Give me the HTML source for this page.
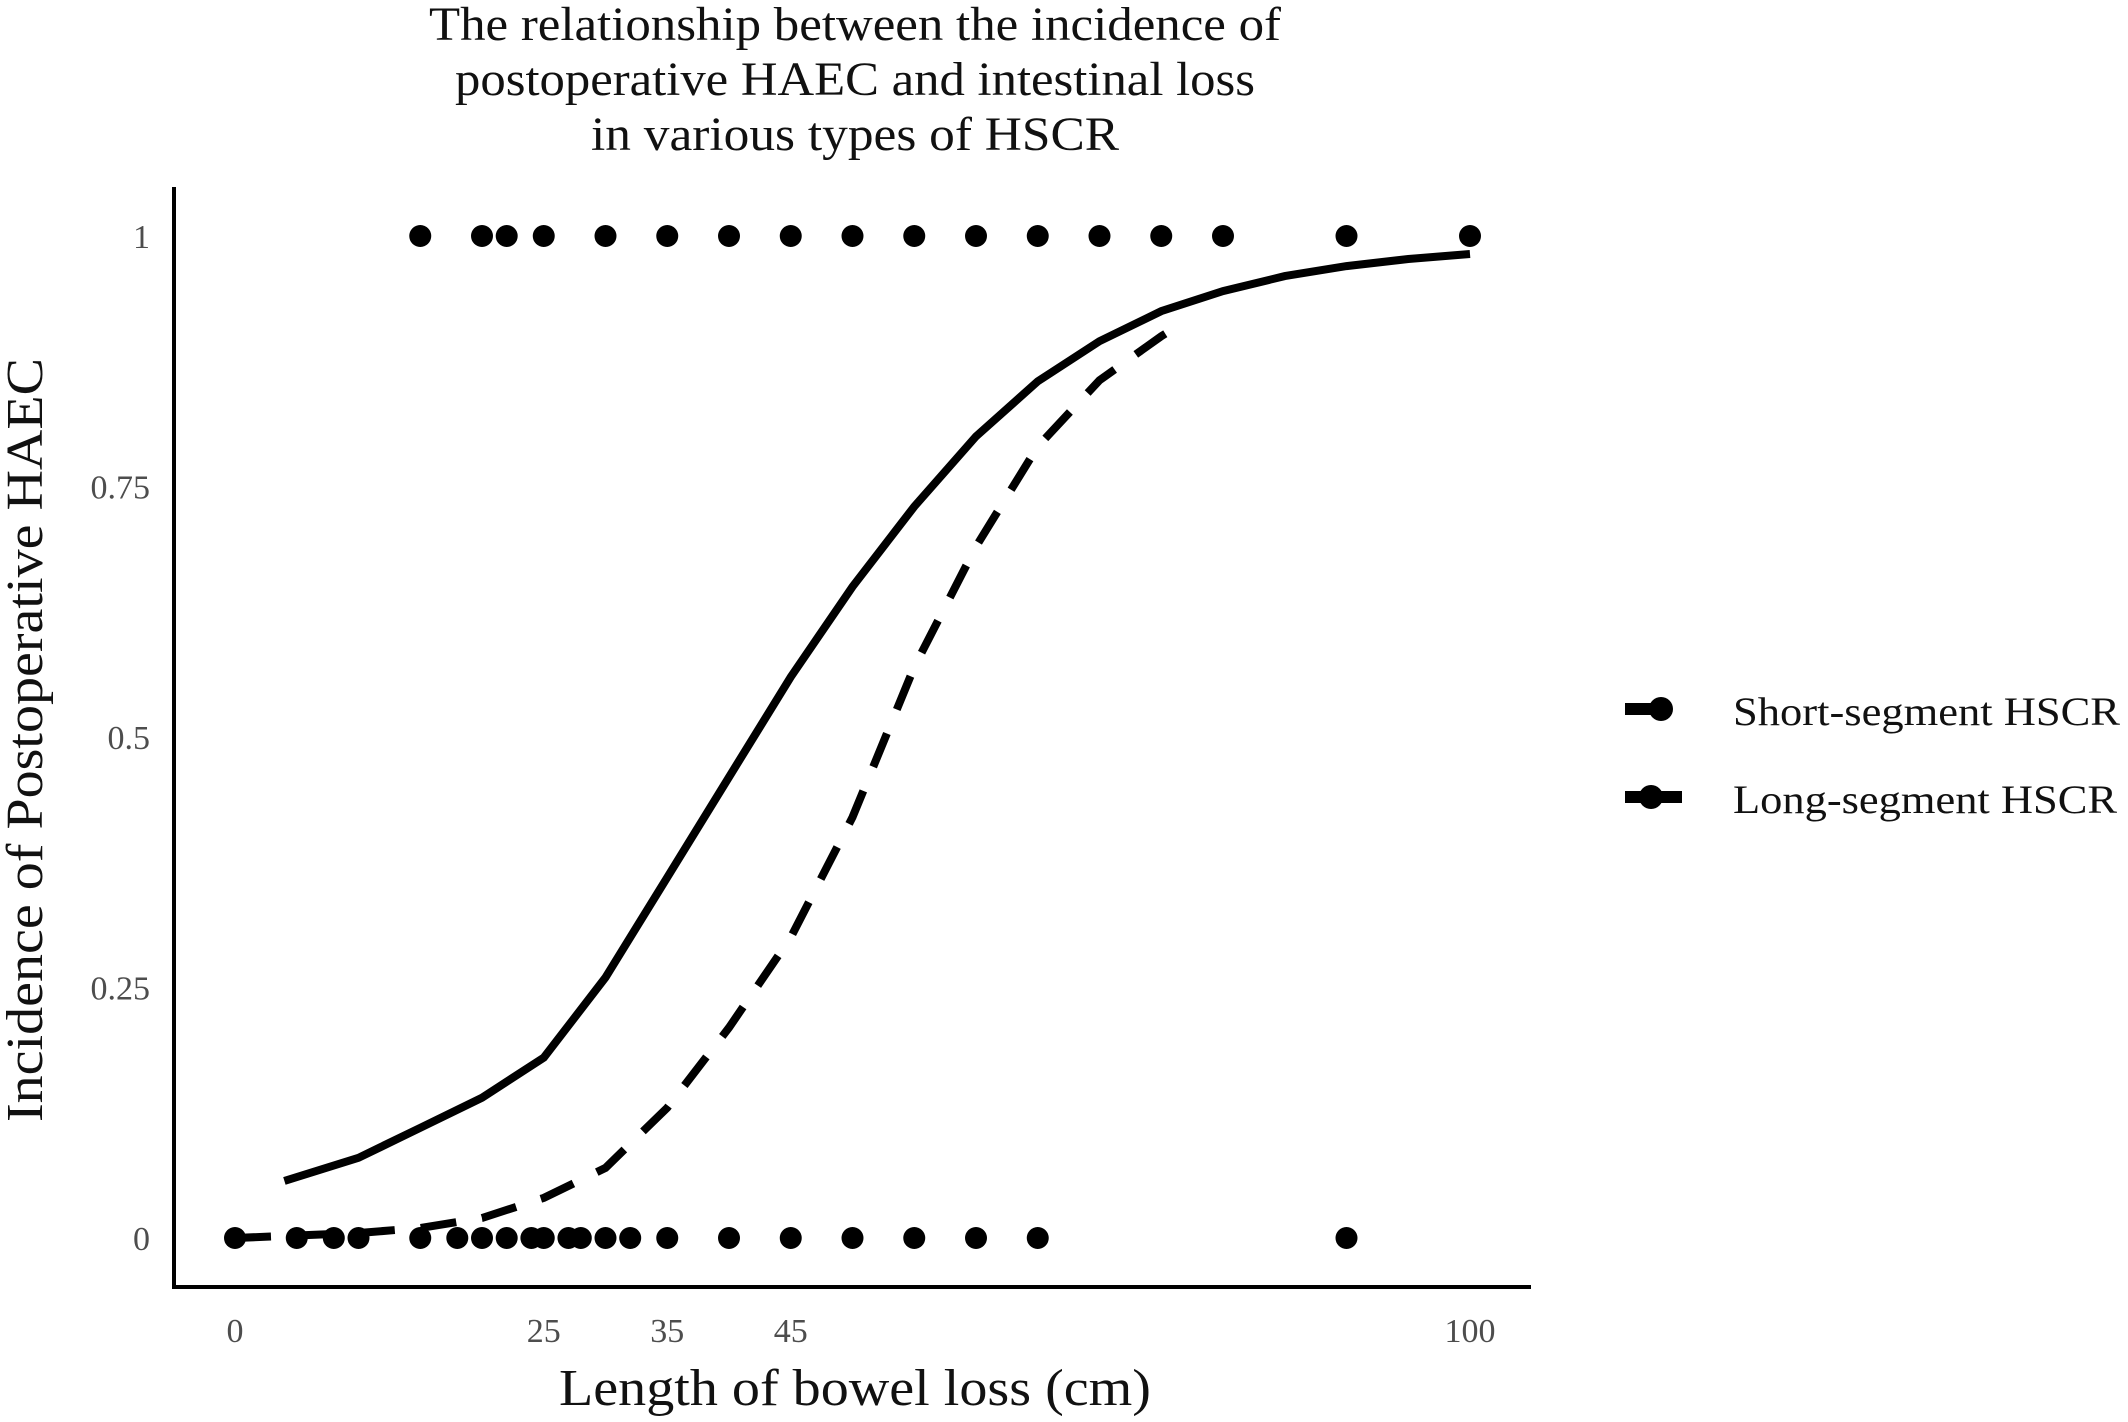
<!DOCTYPE html>
<html><head><meta charset="utf-8"><style>
html,body{margin:0;padding:0;background:#fff;}
svg{display:block;font-family:"Liberation Serif",serif;}
</style></head><body>
<svg id="chart" width="2128" height="1422" viewBox="0 0 2128 1422" xmlns="http://www.w3.org/2000/svg">
<g font-size="48" text-anchor="middle" fill="#111">
<text x="855" y="40" textLength="852" lengthAdjust="spacingAndGlyphs">The relationship between the incidence of</text>
<text x="855" y="95" textLength="800" lengthAdjust="spacingAndGlyphs">postoperative HAEC and intestinal loss</text>
<text x="855" y="150" textLength="528" lengthAdjust="spacingAndGlyphs">in various types of HSCR</text>
</g>
<text transform="translate(42,740) rotate(-90)" font-size="52" text-anchor="middle" textLength="764" lengthAdjust="spacingAndGlyphs" fill="#111">Incidence of Postoperative HAEC</text>
<text x="855" y="1405" font-size="52" text-anchor="middle" textLength="592" lengthAdjust="spacingAndGlyphs" fill="#111">Length of bowel loss (cm)</text>
<line x1="174" y1="187" x2="174" y2="1289" stroke="#000" stroke-width="4"/>
<line x1="172" y1="1287" x2="1531" y2="1287" stroke="#000" stroke-width="4"/>
<g id="yticks"></g>
<g id="xticks"></g>
<g id="curves"></g>
<g id="points"></g>
<g>
<g>
<line x1="1625" y1="709" x2="1660" y2="709" stroke="#000" stroke-width="12"/>
<circle cx="1661" cy="709" r="12" fill="#000"/>
<text x="1733" y="725" font-size="40" fill="#111" textLength="387" lengthAdjust="spacingAndGlyphs">Short-segment HSCR</text>
</g>
<g>
<line x1="1625" y1="797" x2="1682" y2="797" stroke="#000" stroke-width="12"/>
<circle cx="1651" cy="797" r="12" fill="#000"/>
<text x="1733" y="813" font-size="40" fill="#111" textLength="384" lengthAdjust="spacingAndGlyphs">Long-segment HSCR</text>
</g>
</g>
</svg>
<script>
const yTickValues = [0, 0.25, 0.5, 0.75, 1];
const yTickLabels = ["0", "0.25", "0.5", "0.75", "1"];
const xTickValues = [0, 25, 35, 45, 100];
const xTickLabels = ["0", "25", "35", "45", "100"];
const eventX = [15, 20, 22, 25, 30, 35, 40, 45, 50, 55, 60, 65, 70, 75, 80, 90, 100];
const noEventX = [0, 5, 8, 10, 15, 18, 20, 22, 24, 25, 27, 28, 30, 32, 35, 40, 45, 50, 55, 60, 65, 90];
const longCurveX = [4, 10, 15, 20, 25, 30, 35, 40, 45, 50, 55, 60, 65, 70, 75, 80, 85, 90, 95, 100];
const longCurveY = [0.057, 0.08, 0.11, 0.14, 0.18, 0.26, 0.36, 0.46, 0.56, 0.65, 0.73, 0.8, 0.855, 0.895, 0.925, 0.945, 0.96, 0.97, 0.977, 0.982];
const shortCurveX = [0, 10, 15, 20, 25, 30, 35, 40, 45, 50, 55, 60, 65, 70, 75, 77];
const shortCurveY = [0, 0.005, 0.01, 0.02, 0.04, 0.07, 0.13, 0.21, 0.3, 0.42, 0.57, 0.69, 0.79, 0.856, 0.9, 0.915];

const NS = "http://www.w3.org/2000/svg";
const xScale = v => 235 + v * 12.35;
const yScale = v => 1238 - v * 1002;

const yt = document.getElementById('yticks');
yTickValues.forEach((v, i) => {
  const t = document.createElementNS(NS, 'text');
  
  
  t.setAttribute('x', 150); t.setAttribute('y', yScale(v) + 12);
  t.setAttribute('text-anchor', 'end'); t.setAttribute('font-size', '34'); t.setAttribute('fill', '#4d4d4d');
  t.textContent = yTickLabels[i];
  yt.appendChild(t);
});
const xt = document.getElementById('xticks');
xTickValues.forEach((v, i) => {
  const t = document.createElementNS(NS, 'text');
  
  
  t.setAttribute('x', xScale(v)); t.setAttribute('y', 1342);
  t.setAttribute('text-anchor', 'middle'); t.setAttribute('font-size', '34'); t.setAttribute('fill', '#4d4d4d');
  t.textContent = xTickLabels[i];
  xt.appendChild(t);
});

const cg = document.getElementById('curves');
function path(xs, ys) { return xs.map((x, i) => (i ? 'L' : 'M') + xScale(x).toFixed(1) + ' ' + yScale(ys[i]).toFixed(1)).join(' '); }
const p1 = document.createElementNS(NS, 'path');


p1.setAttribute('d', path(longCurveX, longCurveY));
p1.setAttribute('fill', 'none'); p1.setAttribute('stroke', '#000'); p1.setAttribute('stroke-width', '8');
cg.appendChild(p1);
const p2 = document.createElementNS(NS, 'path');


p2.setAttribute('d', path(shortCurveX, shortCurveY));
p2.setAttribute('fill', 'none'); p2.setAttribute('stroke', '#000'); p2.setAttribute('stroke-width', '8');
p2.setAttribute('stroke-dasharray', '36 26');
cg.appendChild(p2);

const pg = document.getElementById('points');
function dot(x, y, name) {
  const c = document.createElementNS(NS, 'circle');
  
  
  c.setAttribute('cx', xScale(x)); c.setAttribute('cy', yScale(y)); c.setAttribute('r', 11); c.setAttribute('fill', '#000');
  pg.appendChild(c);
}
eventX.forEach(x => dot(x, 1, 'point-haec'));
noEventX.forEach(x => dot(x, 0, 'point-no-haec'));
</script>
</body></html>
